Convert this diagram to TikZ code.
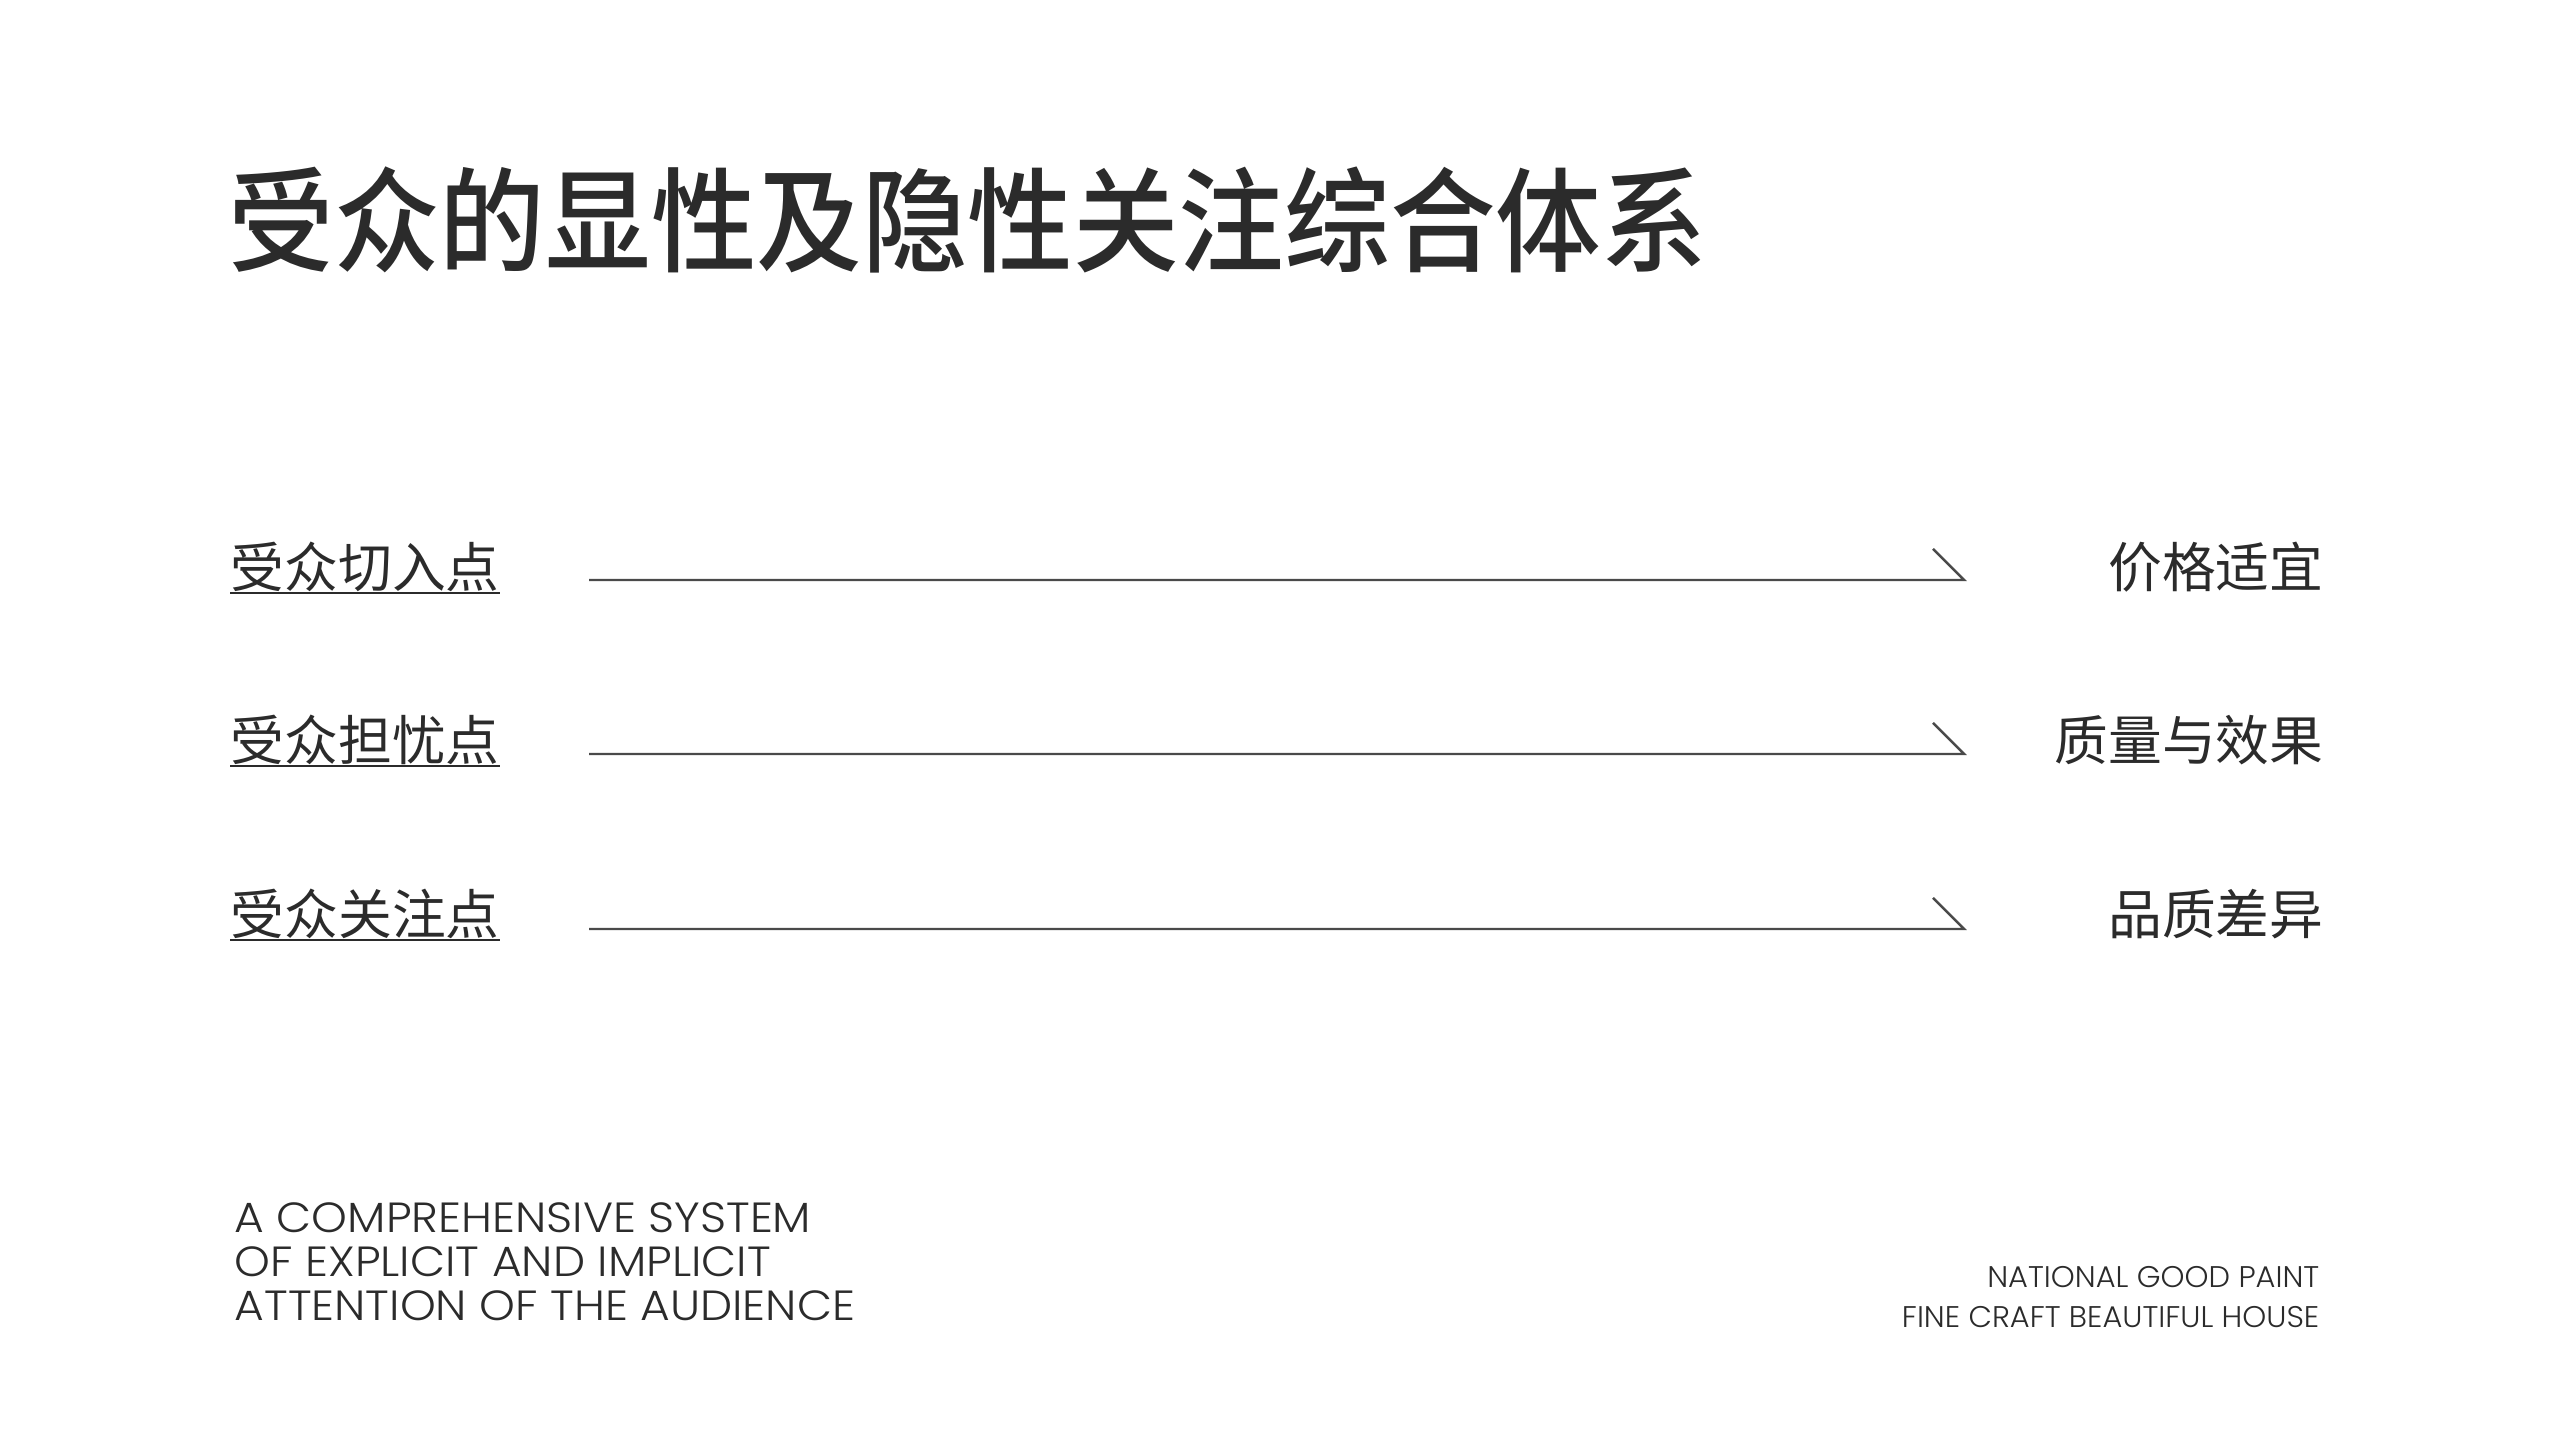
\documentclass[tikz,border=0pt]{standalone}
\usepackage{fontspec}
\newfontfamily\cjk{Noto Sans CJK SC}
\newfontfamily\cjkhead{Noto Sans CJK SC}[UprightFont=* Medium, FakeStretch=0.93]
\newfontfamily\enfont{Poppins Light}[FakeStretch=1.08]
\newfontfamily\enfontsmall{Poppins Light}[FakeStretch=1.02]
\definecolor{ink}{HTML}{2B2B2B}
\definecolor{rulegray}{HTML}{4A4A4A}

\begin{document}
\begin{tikzpicture}[
    lbl/.style={inner sep=0pt, text=ink, font=\cjk\fontsize{15.3}{18}\selectfont},
    link/.style={rulegray, line width=0.7pt},
    uline/.style={ink, line width=0.6pt}
]
    \useasboundingbox[fill=white] (0,0) rectangle (25.6,14.4);

    \node[inner sep=0pt, anchor=west, text=ink, font=\cjkhead\fontsize{32.3}{38}\selectfont] (title) at (2.28,12.20) {受众的显性及隐性关注综合体系};

    % left column
    \node[lbl, anchor=west] (in) at (2.30,8.73) {受众切入点};
    \node[lbl, anchor=west] (worry) at (2.30,7.00) {受众担忧点};
    \node[lbl, anchor=west] (focus) at (2.30,5.26) {受众关注点};

    % right column
    \node[lbl, anchor=east] (price) at (23.24,8.73) {价格适宜};
    \node[lbl, anchor=east] (quality) at (23.24,7.00) {质量与效果};
    \node[lbl, anchor=east] (grade) at (23.24,5.26) {品质差异};

    \draw[uline] (in.south west) -- (in.south east);
    \draw[uline] (worry.south west) -- (worry.south east);
    \draw[uline] (focus.south west) -- (focus.south east);

    \coordinate (s1) at (5.89,8.60);
    \coordinate (e1) at (19.64,8.60);
    \coordinate (s2) at (5.89,6.86);
    \coordinate (e2) at (19.64,6.86);
    \coordinate (s3) at (5.89,5.11);
    \coordinate (e3) at (19.64,5.11);
    \draw[link] (s1) -- (e1) -- ++(135:0.44);
    \draw[link] (s2) -- (e2) -- ++(135:0.44);
    \draw[link] (s3) -- (e3) -- ++(135:0.44);

    % footer
    \node[inner sep=0pt, anchor=north west, align=left, text=ink, font=\enfont\fontsize{12}{12.5}\selectfont] (sub) at (2.34,2.38) {A COMPREHENSIVE SYSTEM\\OF EXPLICIT AND IMPLICIT\\ATTENTION OF THE AUDIENCE};
    \node[inner sep=0pt, anchor=north east, align=right, text=ink, font=\enfontsmall\fontsize{8.5}{11.4}\selectfont] (brand) at (23.20,1.74) {NATIONAL GOOD PAINT\\FINE CRAFT BEAUTIFUL HOUSE};
\end{tikzpicture}
\end{document}
